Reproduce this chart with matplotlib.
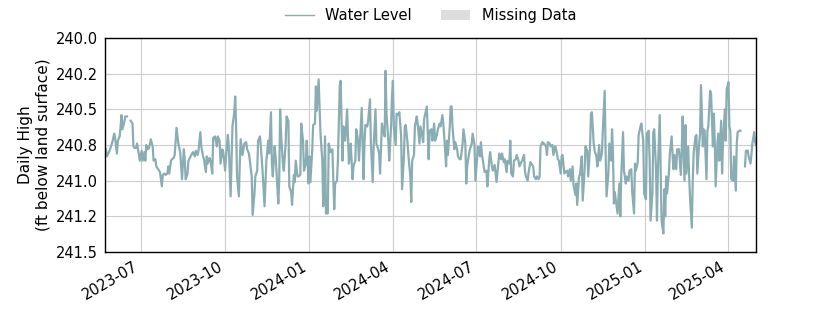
import numpy as np
import pandas as pd
import matplotlib
matplotlib.use("Agg")
import matplotlib.pyplot as plt
import matplotlib.dates as mdates
from matplotlib.lines import Line2D
from matplotlib.patches import Patch
from matplotlib.ticker import FormatStrFormatter

nan = np.nan
start_date = "2023-05-23"
end_date = "2025-05-02"

day_offsets = [
    1, 2, 5, 8, 10, 11, 13, 14, 16, 17, 18, 19, 21, 22, 24, 26, 28, 30, 31, 32,
    34, 35, 37, 38, 40, 41, 43, 44, 45, 47, 48, 50, 52, 53, 55, 56, 58, 60, 62, 63,
    65, 66, 68, 69, 70, 72, 73, 75, 76, 78, 80, 82, 84, 86, 87, 88, 90, 91, 95, 96,
    98, 99, 101, 102, 104, 105, 107, 108, 110, 111, 112, 114, 115, 117, 118,
    120, 122, 123, 125, 126, 128, 129, 131, 132, 134,
    135, 137, 139, 141, 142, 143, 144, 146, 147, 148,
    150, 151, 152, 154, 155, 157, 158, 160, 161, 163,
    164, 166, 167, 169, 170, 172, 174, 175, 176, 178,
    179, 181, 182, 183, 185, 186, 187, 189, 190, 191,
    192, 194, 195, 197, 198, 200, 201, 203, 204, 206,
    207, 208, 210, 211, 213, 214, 216, 217, 219, 220,
    222, 223, 224, 226, 227, 229, 230, 231, 233, 234,
    235, 237, 238, 240,
    241, 243, 244, 246, 247, 248, 250, 251, 253, 254,
    256, 257, 259, 260, 262, 263, 264, 266, 267, 268,
    270, 271, 273, 274, 276, 277, 279, 280, 282, 283,
    284, 286, 287, 289, 290, 292, 293, 295, 296, 298,
    299, 300, 302, 303, 305, 306, 307, 309, 310, 312,
    313, 314, 315, 317, 318, 320, 321, 323, 324, 326,
    327, 328, 330, 331, 333, 334, 335, 337, 338, 340,
    341, 343, 344, 346, 347, 348, 350, 351, 353, 354,
    356, 357, 359,
    360, 362, 363, 365, 366, 368, 369, 371, 372, 373,
    374, 376, 377, 378, 379, 381, 382, 384, 385, 387,
    388, 390, 391, 393, 394, 395, 397, 398, 400, 401,
    403, 404, 406, 407, 409, 410, 411, 413, 414, 416,
    417, 419, 420, 422, 423, 425, 426, 427, 429, 430,
    432, 433, 435, 436, 438, 439, 441, 442, 443, 445,
    446, 448, 449, 451, 452, 454, 455, 457, 458, 459,
    461, 462, 464, 465, 467, 468, 470, 471, 473, 474,
    475, 477, 478,
    479, 481, 482, 483, 485, 486, 488, 489, 491, 492,
    494, 495, 497, 498, 499, 501, 502, 504, 505, 507,
    508, 510, 511, 513, 514, 515, 517, 518, 520, 521,
    523, 524, 526, 527, 529, 530, 531, 533, 534, 536,
    537, 539, 540, 542, 543, 545, 546, 547, 549, 550,
    552, 553, 554, 555, 556, 558, 559, 561, 562, 563,
    565, 566, 568, 569, 571, 572, 574, 575, 577, 578,
    579, 581, 582, 584, 585, 587, 588, 590, 591, 593,
    594, 595, 597, 598,
    599, 601, 602, 603, 605, 606, 607, 609, 610, 611,
    612, 613, 615, 616, 618, 619, 620, 621, 623, 624,
    626, 628, 629, 630, 632, 633, 634, 636, 637, 638,
    640, 641, 642, 644, 645, 646, 648, 649, 650, 652,
    653, 654, 656, 657, 658, 660, 661, 663, 664, 665,
    666, 668, 669, 670, 672, 673, 674, 676, 677, 678,
    680, 681, 682, 683, 685, 686, 688, 689, 690, 692,
    693, 695, 698, 699, 701, 702, 704, 705, 706, 708,
    709, 710,
]

levels = [
    240.78, 240.83, 240.79, 240.73, 240.67, 240.70, 240.81, 240.72, 240.69, 240.62,
    240.54, 240.64, 240.59, 240.55, 240.55, nan, 240.58, 240.60, 240.76, 240.77,
    240.77, 240.74, 240.82, 240.86, 240.79, 240.86, 240.80, 240.86, 240.75, 240.78,
    240.77, 240.71, 240.76, 240.86, 240.85, 240.90, 240.92, 240.94, 241.04, 240.96,
    240.95, 240.96, 240.95, 240.90, 240.95, 240.86, 240.85, 240.84, 240.82, 240.63,
    240.74, 240.80, 240.99, 240.78, 240.86, 240.99, 240.95, 240.86, 240.81, 240.80,
    240.83, 240.79, 240.82, 240.79, 240.66, 240.76, 240.83, 240.85, 240.94, 240.83,
    240.88, 240.84, 240.86, 240.95, 240.70,
    240.69, 240.76, 240.69, 240.72, 240.88, 240.78, 240.80, 240.93, 240.83, 240.68,
    240.76, 241.11, 240.62, 240.52, 240.41, 240.62, 240.97, 241.11, 240.88, 240.71,
    240.82, 240.78, 240.74, 240.73, 240.78, 240.81, 240.86, 240.97, 241.24, 241.09,
    240.97, 240.93, 240.72, 240.69, 240.76, 240.95, 241.18, 241.02, 240.86, 240.72,
    240.81, 240.52, 240.88, 240.97, 240.76, 240.83, 240.93, 241.16, 241.00, 240.50,
    240.67, 240.88, 240.93, 240.74, 240.55, 240.58, 241.04, 241.08, 241.17, 240.96,
    241.01, 240.86, 240.97, 240.97, 240.96, 240.60, 240.72, 240.93, 240.88, 240.72,
    241.02, 240.83, 241.01, 240.79, 240.61, 240.60, 240.34, 240.51, 240.29, 240.48,
    240.67, 240.86, 241.18, 240.69,
    241.23, 241.23, 240.74, 240.80, 240.79, 240.78, 241.20, 241.02, 241.00, 240.86,
    240.34, 240.30, 240.86, 240.62, 240.72, 240.62, 240.50, 240.88, 240.83, 240.74,
    240.99, 240.90, 240.86, 240.64, 240.72, 240.86, 240.62, 240.49, 240.99, 240.74,
    240.61, 240.62, 240.58, 240.43, 240.74, 241.01, 240.76, 240.50, 240.74, 240.78,
    240.81, 240.95, 240.60, 240.64, 240.69, 240.23, 240.53, 240.72, 240.86, 240.62,
    240.41, 240.30, 240.62, 240.75, 240.53, 240.54, 240.52, 240.69, 241.06, 240.83,
    240.62, 240.61, 240.74, 240.83, 240.97, 241.15, 240.86, 240.82, 240.62, 240.55,
    240.60, 240.74, 240.62, 240.69, 240.73, 240.57, 240.51, 240.48, 240.85, 240.65,
    240.64, 240.72, 240.60,
    240.72, 240.68, 240.64, 240.60, 240.62, 240.54, 240.60, 240.79, 240.90, 240.72,
    240.82, 240.62, 240.48, 240.48, 240.62, 240.78, 240.73, 240.78, 240.83, 240.85,
    240.85, 240.74, 240.64, 240.74, 241.02, 240.90, 240.81, 240.78, 240.74, 240.67,
    240.75, 241.00, 240.83, 240.76, 240.83, 240.73, 240.81, 240.90, 240.94, 240.93,
    241.04, 240.86, 240.80, 240.90, 240.93, 240.89, 240.95, 241.01, 240.88, 240.81,
    240.85, 240.81, 240.87, 240.85, 240.94, 240.86, 240.88, 240.72, 240.95, 240.97,
    240.86, 240.85, 240.82, 240.86, 240.90, 240.87, 240.86, 240.82, 240.93, 240.97,
    241.00, 240.94, 240.87, 240.88, 240.90, 240.97, 240.99, 240.97, 240.99, 240.97,
    240.76, 240.73, 240.74,
    240.74, 240.76, 240.82, 240.73, 240.74, 240.76, 240.75, 240.82, 240.76, 240.78,
    240.85, 240.86, 240.95, 240.83, 240.82, 240.95, 240.94, 240.93, 240.97, 240.92,
    241.00, 240.90, 241.03, 241.10, 241.02, 241.17, 240.97, 240.96, 240.83, 241.14,
    240.93, 240.76, 240.79, 240.97, 240.76, 240.53, 240.52, 240.74, 240.79, 240.83,
    240.90, 240.75, 240.86, 240.81, 240.64, 240.37, 240.81, 241.11, 240.95, 240.74,
    240.86, 240.64, 240.80, 241.16, 241.08, 241.18, 241.23, 241.02, 241.25, 240.97,
    240.66, 240.93, 241.02, 240.97, 241.00, 240.93, 240.92, 241.08, 241.23, 240.88,
    240.93, 240.87, 240.68, 240.62, 240.60, 240.72, 241.09, 241.13, 240.67, 240.65,
    240.86, 241.28, 241.09, 240.66,
    240.64, 240.93, 241.28, 240.93, 240.54, 240.93, 241.28, 241.37, 241.06, 241.25,
    240.97, 241.09, 240.95, 240.81, 240.69, 240.82, 240.92, 240.82, 240.92, 240.78,
    240.78, 240.96, 240.79, 240.55, 241.00, 240.61, 240.95, 240.76, 240.96, 241.11,
    241.33, 241.00, 240.81, 240.69, 240.68, 240.95, 240.74, 240.67, 240.33, 240.76,
    240.64, 240.65, 240.99, 240.65, 240.62, 240.37, 240.39, 240.76, 240.53, 240.72,
    241.04, 240.73, 240.67, 240.86, 240.58, 240.95, 240.74, 240.50, 240.72, 240.36,
    240.31, 240.62, 240.65, 240.99, 241.00, 240.83, 241.07, 240.74, 240.66, 240.65,
    240.65, nan, 240.90, 240.79, 240.79, 240.83, 240.88, 240.82, 240.74, 240.66,
    240.73, 240.75,
]

y_ticks = [240.0, 240.25, 240.5, 240.75, 241.0, 241.25, 241.5]
legend_labels = ["Water Level", "Missing Data"]
y_label = "Daily High\n(ft below land surface)"

line_color = "#8aadb3"
missing_color = "#dddddd"
fs = 10.5

n = min(len(day_offsets), len(levels))
dates = pd.to_datetime(start_date) + pd.to_timedelta(np.array(day_offsets[:n]), unit="D")
vals = np.array(levels[:n], dtype=float)

fig = plt.figure(figsize=(8.4, 3.15), dpi=100)
ax = fig.add_axes([0.125, 0.2, 0.775, 0.6794])

ax.plot(dates, vals, color=line_color, linewidth=1.6, solid_joinstyle="round")

ax.set_xlim(pd.to_datetime(start_date), pd.to_datetime(end_date))
ax.set_ylim(241.5, 240.0)
ax.set_yticks(y_ticks)
ax.yaxis.set_major_formatter(FormatStrFormatter("%.1f"))
ax.xaxis.set_major_locator(mdates.MonthLocator(bymonth=[1, 4, 7, 10]))
ax.xaxis.set_major_formatter(mdates.DateFormatter("%Y-%m"))

ax.grid(True, color="#cccccc", linewidth=0.8)
ax.set_axisbelow(True)
ax.tick_params(axis="both", length=0, pad=5, labelsize=fs)
for lbl in ax.get_xticklabels():
    lbl.set_rotation(30)
    lbl.set_ha("right")
for s in ax.spines.values():
    s.set_color("black")
    s.set_linewidth(1.0)

ax.set_ylabel(y_label, fontsize=11, labelpad=4)

handles = [
    Line2D([0], [0], color=line_color, linewidth=1.0),
    Patch(facecolor=missing_color, edgecolor="none"),
]
ax.legend(handles, legend_labels, loc="lower center", bbox_to_anchor=(0.5, 1.0),
          ncol=2, frameon=False, fontsize=fs, columnspacing=2.0, handlelength=2.0,
          borderaxespad=0.6)

fig.savefig("out.png", dpi=100)
